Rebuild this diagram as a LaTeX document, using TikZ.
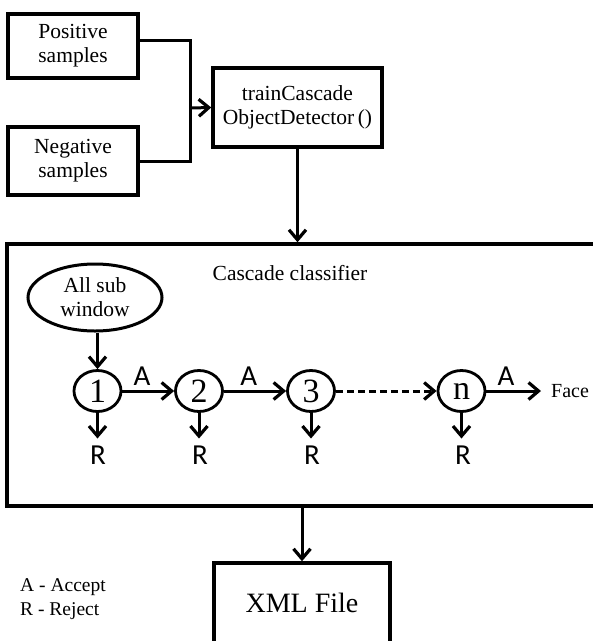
\documentclass[tikz,border=0pt]{standalone}
\usepackage{fontspec}
\setmainfont{Liberation Serif}
\newfontfamily\calfont{Carlito}
\usetikzlibrary{arrows.meta,shapes.geometric}
\begin{document}
\begin{tikzpicture}[x=1pt,y=-1pt,
  box/.style={draw,line width=3.5pt,inner sep=0pt,align=center,font=\fontsize{21.5}{24}\selectfont},
  conn/.style={line width=3pt},
  arr/.style={line width=3pt,-{Straight Barb[length=10pt,width=17pt,line width=3.2pt]}},
  stage/.style={draw,ellipse,line width=2.8pt,minimum width=47pt,minimum height=41pt,inner sep=0pt,font=\fontsize{34}{34}\selectfont},
  lab/.style={font=\calfont\fontsize{29}{29}\selectfont,inner sep=0pt},
  txt/.style={inner sep=0pt,font=\fontsize{21.5}{24}\selectfont},
]
\useasboundingbox (0,0) rectangle (593,641);
\clip (0,0) rectangle (593,641);
\fill[white] (0,0) rectangle (593,641);

% top part
\node[box,minimum width=130pt,minimum height=64pt] (pos) at (73,46) {Positive\\samples};
\node[box,minimum width=130pt,minimum height=68pt] (neg) at (73,161) {Negative\\samples};
\node[box,minimum width=169pt,minimum height=79pt] (train) at (297.5,107.5) {trainCascade\\ObjectDetector\,()};
\coordinate (j) at (190,108);
\draw[conn] ([yshift=6pt]pos.east) -| (j) |- (neg.east);
\draw[arr] (j) -- (train.west);

% cascade box
\node[draw,line width=3.5pt,minimum width=600pt,minimum height=262pt,inner sep=0pt] (casc) at (307,375) {};
\draw[arr] (train.south) -- (train.south |- casc.north);
\node[txt] (ct) at (290,273) {Cascade classifier};
\node[draw,ellipse,line width=3pt,minimum width=134pt,minimum height=67pt,inner sep=0pt,align=center,font=\fontsize{21.5}{24}\selectfont] (sub) at (95,297.5) {All sub\\window};

\node[stage] (c1) at (97.5,391) {1};
\node[stage] (c2) at (199,391) {2};
\node[stage] (c3) at (311,391) {3};
\node[stage] (cn) at (461.5,391) {n};
\node[lab] (r1) at (98,455) {R};
\node[lab] (r2) at (200,455) {R};
\node[lab] (r3) at (312,455) {R};
\node[lab] (rn) at (463,455) {R};
\node[inner sep=0pt,anchor=west,font=\fontsize{20}{20}\selectfont] (face) at (551,391) {Face};
\coordinate (fe) at (541,391);

\draw[arr] (c1.north |- sub.south) -- (c1.north);
\draw[arr] (c1) -- node[lab,pos=.38,above=4pt] {A} (c2);
\draw[arr] (c2) -- node[lab,pos=.4,above=4pt] {A} (c3);
\draw[arr,dash pattern=on 7pt off 4pt] (c3) -- (cn);
\draw[arr] (cn.east) -- node[lab,pos=.36,above=4pt] {A} (fe);
\foreach \c/\r in {c1/r1,c2/r2,c3/r3,cn/rn}
  \draw[arr,shorten >=7pt] (\c.south) -- (\c.south |- \r.north);

% output
\node[box,minimum width=176pt,minimum height=80pt,font=\fontsize{28}{28}\selectfont] (xml) at (302,603) {XML File};
\draw[arr] (xml.north |- casc.south) -- (xml.north);
\node[txt,anchor=base west,font=\fontsize{19.5}{19.5}\selectfont] (l1) at (20,591) {A - Accept};
\node[txt,anchor=base west,font=\fontsize{19.5}{19.5}\selectfont] (l2) at (20,615) {R - Reject};
\end{tikzpicture}
\end{document}
